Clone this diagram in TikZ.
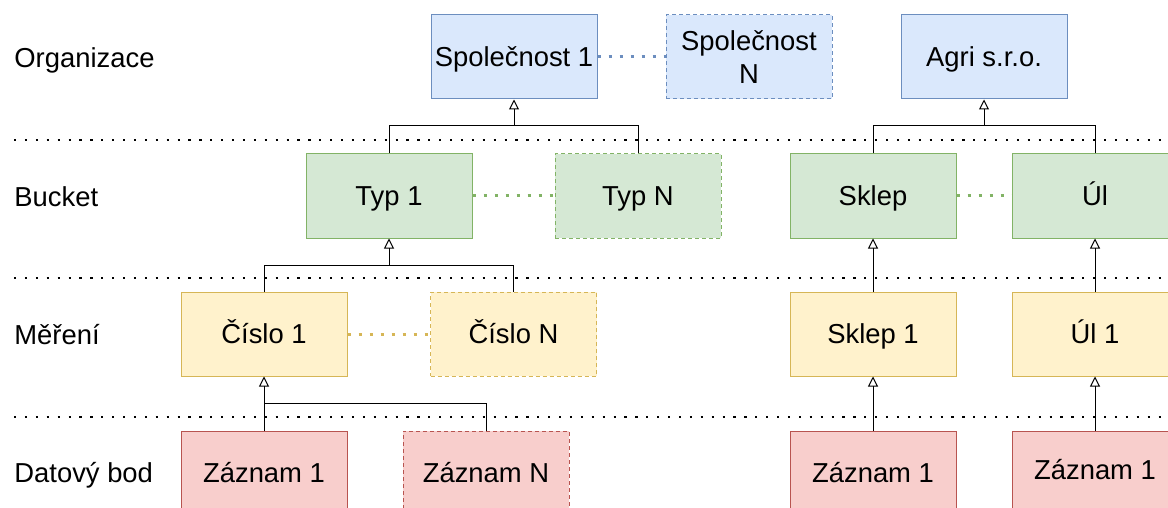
\documentclass[tikz,border=0pt]{standalone}
\usepackage{fontspec}
\setmainfont{Liberation Sans}
\usetikzlibrary{arrows.meta}

\definecolor{blueFill}{HTML}{DAE8FC}
\definecolor{blueLine}{HTML}{6C8EBF}
\definecolor{greenFill}{HTML}{D5E8D4}
\definecolor{greenLine}{HTML}{82B366}
\definecolor{yellowFill}{HTML}{FFF2CC}
\definecolor{yellowLine}{HTML}{D6B656}
\definecolor{redFill}{HTML}{F8CECC}
\definecolor{redLine}{HTML}{B85450}

\tikzset{
    box/.style={rectangle, minimum width=83pt, minimum height=42pt, line width=0.5pt,
        inner sep=1pt, align=center, text height=12.8pt, text depth=3pt,
        font=\fontsize{13.7}{16.5}\selectfont},
    org/.style={box, fill=blueFill, draw=blueLine},
    bucket/.style={box, fill=greenFill, draw=greenLine},
    mereni/.style={box, fill=yellowFill, draw=yellowLine},
    zaznam/.style={box, fill=redFill, draw=redLine},
    more/.style={dash pattern=on 2pt off 1.5pt},
    level/.style={anchor=west, inner sep=0pt, text height=12.8pt, text depth=3pt,
        font=\fontsize{13.7}{16.5}\selectfont},
    divider/.style={line width=1.1pt, dash pattern=on 1.1pt off 4.35pt},
    sibling/.style={line width=1.5pt, dash pattern=on 1.5pt off 4pt},
    link/.style={line width=0.5pt},
    parent/.style={link, -{Triangle[open, length=5pt, width=5pt]}},
}

\begin{document}
\begin{tikzpicture}[x=0.5pt, y=-0.5pt]

    \fill[white] (0,0) rectangle (1168,508);
    \clip (0,0) rectangle (1168,508);

    % level labels
    \node[level] (lOrg) at (14,58) {Organizace};
    \node[level] (lBucket) at (14,197) {Bucket};
    \node[level] (lMereni) at (14,335) {Měření};
    \node[level] (lZaznam) at (14,473) {Datový bod};

    \draw[divider] (14,140) -- (1168,140);
    \draw[divider] (14,278) -- (1168,278);
    \draw[divider] (14,417) -- (1168,417);

    % organizace
    \node[org] (spol1) at (514,57) {Společnost 1};
    \node[org, more, text height=, text depth=] (spolN) at (749,57) {Společnost\\N};
    \node[org] (agri) at (984,57) {Agri s.r.o.};

    % buckets
    \node[bucket] (typ1) at (389,196) {Typ 1};
    \node[bucket, more] (typN) at (638,196) {Typ N};
    \node[bucket] (sklep) at (873,196) {Sklep};
    \node[bucket] (ul) at (1095,196) {Úl};

    % mereni
    \node[mereni] (cislo1) at (264,334) {Číslo 1};
    \node[mereni, more] (cisloN) at (513.5,334) {Číslo N};
    \node[mereni] (sklep1) at (873,334) {Sklep 1};
    \node[mereni] (ul1) at (1095,334) {Úl 1};

    % datove body
    \node[zaznam] (zazCislo) at (264,473) {Záznam 1};
    \node[zaznam, more] (zazN) at (486,473) {Záznam N};
    \node[zaznam] (zazSklep) at (873,473) {Záznam 1};
    \node[zaznam] (zazUl) at (1095,473) {\raisebox{1.5pt}{Záznam 1}};

    % siblings
    \draw[sibling, blueLine] (spol1.east) -- (spolN.west);
    \draw[sibling, greenLine] (typ1.east) -- (typN.west);
    \draw[sibling, greenLine] (sklep.east) -- (ul.west);
    \draw[sibling, yellowLine] (cislo1.east) -- (cisloN.west);

    % hierarchy
    \coordinate (busSpol) at (514,126);
    \coordinate (busAgri) at (984,126);
    \coordinate (busTyp) at (389,265);
    \coordinate (busCislo) at (264,403);

    \draw[parent] (typ1.north) |- (busSpol) -- (spol1.south);
    \draw[link] (typN.north) |- (busSpol);
    \draw[parent] (sklep.north) |- (busAgri) -- (agri.south);
    \draw[link] (ul.north) |- (busAgri);

    \draw[parent] (cislo1.north) |- (busTyp) -- (typ1.south);
    \draw[link] (cisloN.north) |- (busTyp);
    \draw[parent] (sklep1.north) -- (sklep.south);
    \draw[parent] (ul1.north) -- (ul.south);

    \draw[parent] (zazCislo.north) -- (cislo1.south);
    \draw[link] (zazN.north) |- (busCislo);
    \draw[parent] (zazSklep.north) -- (sklep1.south);
    \draw[parent] (zazUl.north) -- (ul1.south);

\end{tikzpicture}
\end{document}
